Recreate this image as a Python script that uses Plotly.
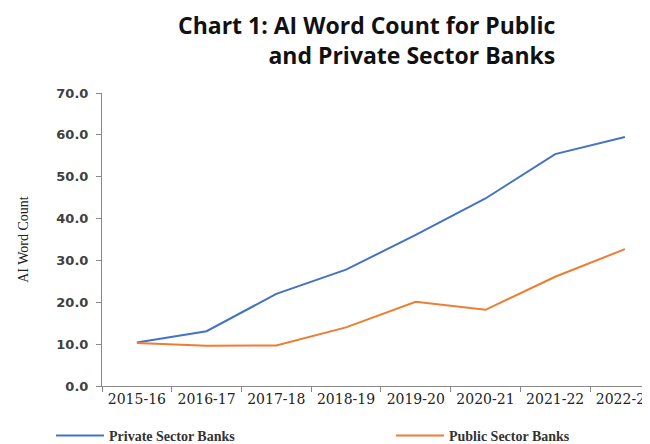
import plotly.graph_objects as go

years = ["2015-16", "2016-17", "2017-18", "2018-19", "2019-20", "2020-21", "2021-22", "2022-23"]
private_banks = [10.4, 13.1, 22.0, 27.8, 36.1, 44.8, 55.4, 59.5]
public_banks = [10.3, 9.6, 9.7, 14.0, 20.1, 18.2, 26.1, 32.7]
y_ticks = [0, 10, 20, 30, 40, 50, 60, 70]

# page body adds an 8px offset; figure sized to the visible window
W, H = 642, 436
L, R, T, B = 94, 0, 85, 58
pw, ph = W - L - R, H - T - B

def px_x(x):
    return (x - L) / pw

def px_y(y):
    return (H - B - y) / ph

legend_font = dict(family="Liberation Serif", size=14, color="#333", weight="bold")

fig = go.Figure()
fig.add_trace(go.Scatter(x=years, y=private_banks, mode="lines", name="Private Sector Banks",
                         line=dict(color="#4472C4", width=2), legend="legend"))
fig.add_trace(go.Scatter(x=years, y=public_banks, mode="lines", name="Public Sector Banks",
                         line=dict(color="#ED7D31", width=2), legend="legend2"))

fig.update_layout(
    width=W, height=H,
    margin=dict(l=L, r=R, t=T, b=B, autoexpand=False),
    plot_bgcolor="white", paper_bgcolor="white",
    showlegend=True,
    legend=dict(orientation="h", x=px_x(43), xanchor="left", y=px_y(428), yanchor="middle",
                itemwidth=48, font=legend_font, bgcolor="rgba(0,0,0,0)"),
    legend2=dict(orientation="h", x=px_x(383), xanchor="left", y=px_y(428), yanchor="middle",
                 itemwidth=48, font=legend_font, bgcolor="rgba(0,0,0,0)"),
    xaxis=dict(type="category", range=[-0.5, 7.36], showline=True, linecolor="#888", linewidth=1,
               ticks="outside", tickson="boundaries", ticklen=5, tickcolor="#888",
               showgrid=False, zeroline=False,
               tickfont=dict(family="DejaVu Serif", size=14, color="#222")),
    yaxis=dict(range=[0, 70], tickvals=y_ticks, tickformat=".1f", showline=True, linecolor="#888",
               linewidth=1, ticks="outside", ticklen=5, tickcolor="#888", showgrid=False, zeroline=False,
               ticklabelstandoff=5,
               tickfont=dict(family="DejaVu Sans", size=13, color="#404040", weight="bold"),
               title=dict(text="AI Word Count", font=dict(family="Liberation Serif", size=14, color="#222"),
                          standoff=24)),
    annotations=[
        dict(text="<b>Chart 1: AI Word Count for Public<br>and Private Sector Banks</b>",
             xref="paper", yref="paper", align="right",
             x=px_x(358), y=px_y(32), xanchor="center", yanchor="middle", showarrow=False,
             font=dict(family="Open Sans", size=23, color="#111")),
    ],
)

fig.write_html("out.html")
